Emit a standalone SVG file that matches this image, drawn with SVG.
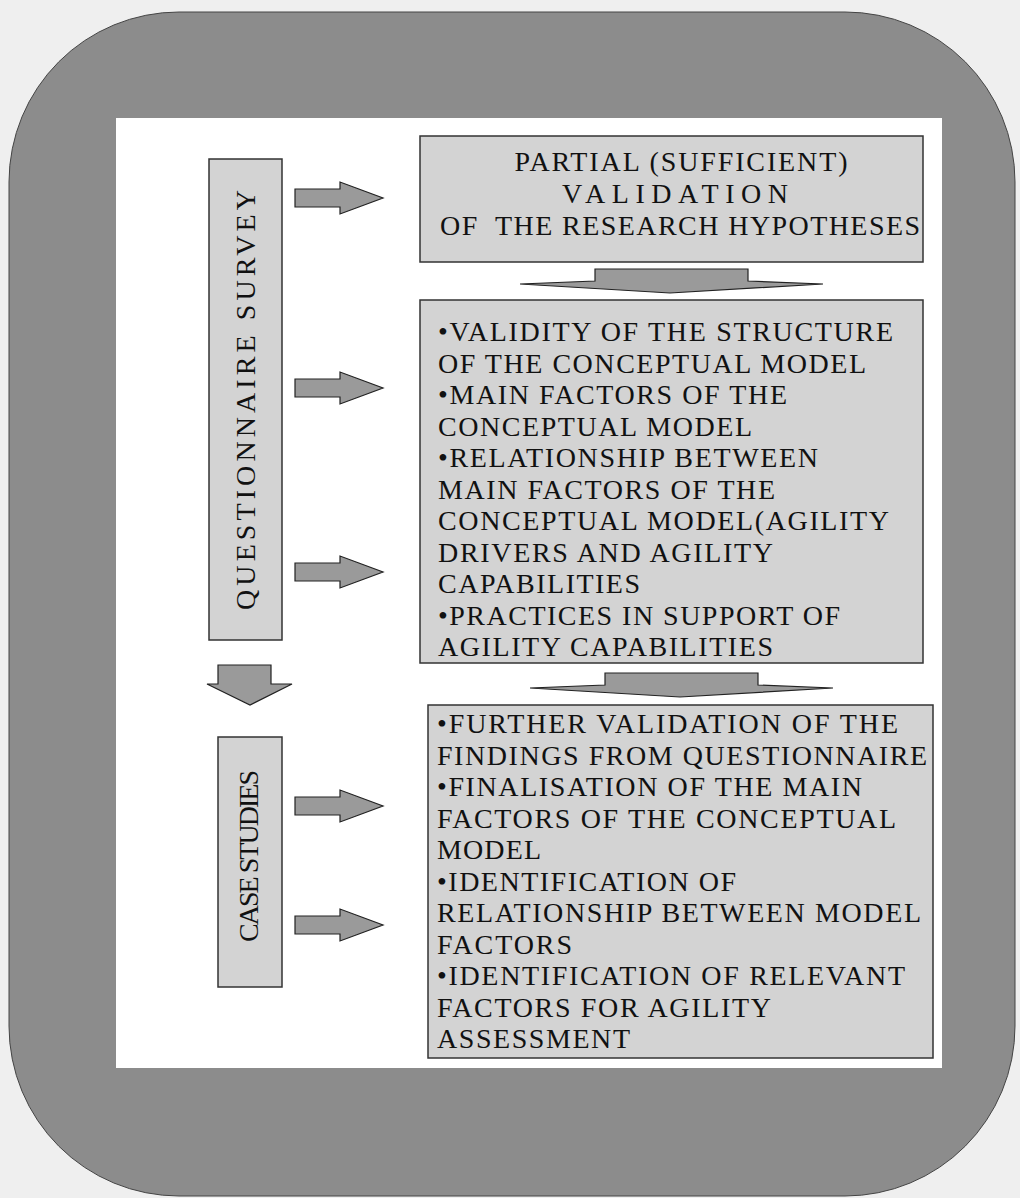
<svg xmlns="http://www.w3.org/2000/svg" width="1020" height="1198" viewBox="0 0 1020 1198">
<style>
.box{fill:#d3d3d3;stroke:#333;stroke-width:1.5}
.arr{fill:#9a9a9a;stroke:#222;stroke-width:1.2}
.t{font-family:"Liberation Serif","Times New Roman",serif;font-size:28px;fill:#111}
.tc{text-anchor:middle}
</style>
<rect x="0" y="0" width="1020" height="1198" fill="#efefef"/>
<rect id="frame" x="9" y="12" width="1006" height="1184" rx="170" ry="170" fill="#8c8c8c" stroke="#444" stroke-width="1"/>
<rect id="panel" x="116" y="118" width="826" height="950" fill="#ffffff"/>

<g id="survey">
<rect class="box" x="209" y="159" width="73" height="481"/>
<text class="t tc" transform="translate(255,400) rotate(-90)" font-size="26" textLength="420" lengthAdjust="spacing">QUESTIONNAIRE SURVEY</text>
</g>
<g id="cases">
<rect class="box" x="218" y="737" width="64" height="250"/>
<text class="t tc" transform="translate(258,856) rotate(-90)" font-size="24" textLength="172" lengthAdjust="spacing">CASE STUDIES</text>
</g>

<g id="hypotheses">
<rect class="box" x="420" y="136" width="503" height="126"/>
<text class="t tc" x="681" y="171" textLength="333" lengthAdjust="spacing">PARTIAL (SUFFICIENT)</text>
<text class="t tc" x="675" y="203" textLength="226" lengthAdjust="spacing">VALIDATION</text>
<text class="t" x="440" y="235" textLength="480" lengthAdjust="spacing" xml:space="preserve">OF  THE RESEARCH HYPOTHESES</text>
</g>

<g id="questionnaire-findings">
<rect class="box" x="420" y="300" width="503" height="363"/>
<text class="t" x="438" y="341" textLength="455" lengthAdjust="spacing">•VALIDITY OF THE STRUCTURE</text>
<text class="t" x="438" y="372.5" textLength="428" lengthAdjust="spacing">OF THE CONCEPTUAL MODEL</text>
<text class="t" x="438" y="404" textLength="349" lengthAdjust="spacing">•MAIN FACTORS OF THE</text>
<text class="t" x="438" y="435.5" textLength="314" lengthAdjust="spacing">CONCEPTUAL MODEL</text>
<text class="t" x="438" y="467" textLength="380" lengthAdjust="spacing">•RELATIONSHIP BETWEEN</text>
<text class="t" x="438" y="498.5" textLength="337" lengthAdjust="spacing">MAIN FACTORS OF THE</text>
<text class="t" x="438" y="530" textLength="451" lengthAdjust="spacing">CONCEPTUAL MODEL(AGILITY</text>
<text class="t" x="438" y="561.5" textLength="335" lengthAdjust="spacing">DRIVERS AND AGILITY</text>
<text class="t" x="438" y="593" textLength="202" lengthAdjust="spacing">CAPABILITIES</text>
<text class="t" x="438" y="624.5" textLength="402" lengthAdjust="spacing">•PRACTICES IN SUPPORT OF</text>
<text class="t" x="438" y="656" textLength="335" lengthAdjust="spacing">AGILITY CAPABILITIES</text>
</g>

<g id="case-findings">
<rect class="box" x="428" y="705" width="505" height="353"/>
<text class="t" x="437" y="733" textLength="461" lengthAdjust="spacing">•FURTHER VALIDATION OF THE</text>
<text class="t" x="437" y="764.5" textLength="490" lengthAdjust="spacing">FINDINGS FROM QUESTIONNAIRE</text>
<text class="t" x="437" y="796" textLength="425" lengthAdjust="spacing">•FINALISATION OF THE MAIN</text>
<text class="t" x="437" y="827.5" textLength="459" lengthAdjust="spacing">FACTORS OF THE CONCEPTUAL</text>
<text class="t" x="437" y="859" textLength="104" lengthAdjust="spacing">MODEL</text>
<text class="t" x="437" y="890.5" textLength="299" lengthAdjust="spacing">•IDENTIFICATION OF</text>
<text class="t" x="437" y="922" textLength="484" lengthAdjust="spacing">RELATIONSHIP BETWEEN MODEL</text>
<text class="t" x="437" y="953.5" textLength="135" lengthAdjust="spacing">FACTORS</text>
<text class="t" x="437" y="985" textLength="468" lengthAdjust="spacing">•IDENTIFICATION OF RELEVANT</text>
<text class="t" x="437" y="1016.5" textLength="334" lengthAdjust="spacing">FACTORS FOR AGILITY</text>
<text class="t" x="437" y="1048" textLength="193" lengthAdjust="spacing">ASSESSMENT</text>
</g>

<g id="connectors">
<defs>
<path id="ra" d="M0,-9 H45 V-16 L88,0 L45,16 V9 H0 Z"/>
</defs>
<use href="#ra" class="arr" x="295" y="198"/>
<use href="#ra" class="arr" x="295" y="388"/>
<use href="#ra" class="arr" x="295" y="572"/>
<use href="#ra" class="arr" x="295" y="806"/>
<use href="#ra" class="arr" x="295" y="925"/>
<path class="arr" d="M218,665 H271 V684 H292 L250,705 L207,684 H218 Z"/>
<path class="arr" d="M595,269 H748 V281 L823,284 L670,293 L520,284 L595,281 Z"/>
<path class="arr" d="M605,673 H758 V685 L833,688 L680,697 L530,688 L605,685 Z"/>
</g>
</svg>
